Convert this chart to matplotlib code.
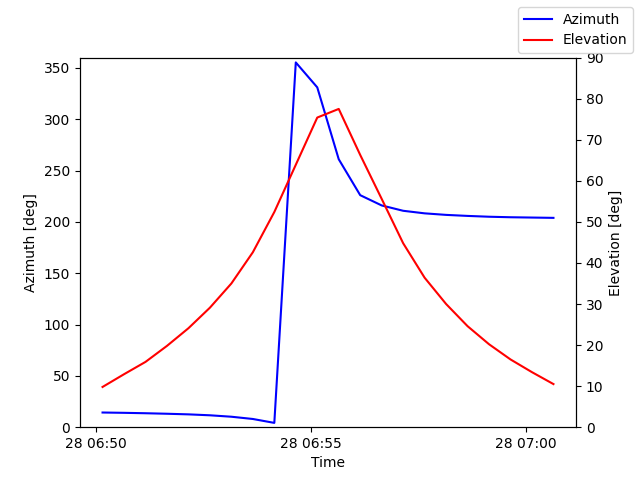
import matplotlib
matplotlib.use("Agg")
import matplotlib.pyplot as plt
import pandas as pd

# pass samples, every 30 s
times = pd.to_datetime([
    "2023-03-28 06:50:09", "2023-03-28 06:50:39", "2023-03-28 06:51:09", "2023-03-28 06:51:39",
    "2023-03-28 06:52:09", "2023-03-28 06:52:39", "2023-03-28 06:53:09", "2023-03-28 06:53:39",
    "2023-03-28 06:54:09", "2023-03-28 06:54:39", "2023-03-28 06:55:09", "2023-03-28 06:55:39",
    "2023-03-28 06:56:09", "2023-03-28 06:56:39", "2023-03-28 06:57:09", "2023-03-28 06:57:39",
    "2023-03-28 06:58:09", "2023-03-28 06:58:39", "2023-03-28 06:59:09", "2023-03-28 06:59:39",
    "2023-03-28 07:00:09", "2023-03-28 07:00:39",
])
azimuth = [14.3, 14.0, 13.6, 13.1, 12.5, 11.6, 10.2, 8.0, 4.2, 355.3, 331.0, 261.0,
           226.0, 216.0, 210.8, 208.3, 206.8, 205.8, 205.0, 204.5, 204.2, 203.9]
elevation = [9.8, 12.9, 15.9, 19.8, 24.1, 29.1, 35.0, 42.6, 52.4, 63.9, 75.4, 77.5,
             66.3, 55.6, 44.8, 36.4, 30.0, 24.6, 20.2, 16.5, 13.4, 10.5]

fig, ax1 = plt.subplots(figsize=(6.4, 4.8), dpi=100)
ax1.plot(times, azimuth, color='blue', label='Azimuth')
ax1.set_ylim(0, 360)
ax1.set_xlabel('Time')
ax1.set_ylabel('Azimuth [deg]')

ax2 = ax1.twinx()
ax2.plot(times, elevation, color='red', label='Elevation')
ax2.set_ylim(0, 90)
ax2.set_ylabel('Elevation [deg]')

fig.legend(loc='upper right')
fig.savefig('out.png')
